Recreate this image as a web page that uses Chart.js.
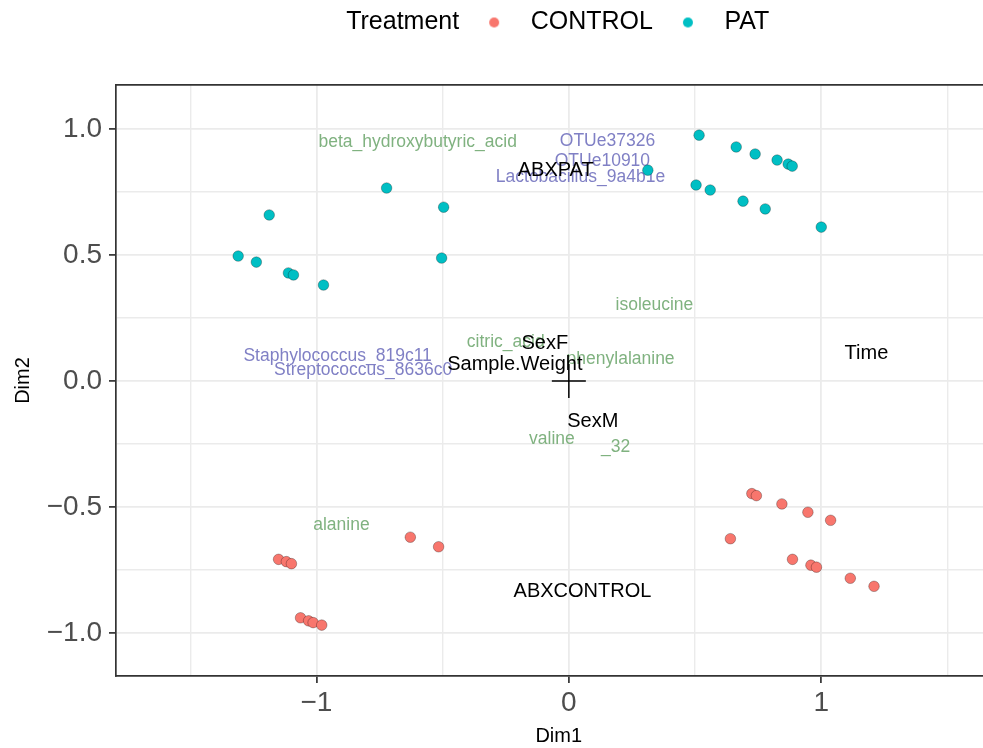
<!DOCTYPE html>
<html>
<head>
<meta charset="utf-8">
<script src="https://cdn.jsdelivr.net/npm/chart.js@4.4.1/dist/chart.umd.min.js"></script>
<style>
  html, body { margin: 0; padding: 0; background: #fff; overflow: hidden; }
  #wrap { width: 1020px; height: 748px; }
</style>
</head>
<body>
<div id="wrap"><canvas id="chart" width="1020" height="748"></canvas></div>
<script>
// groups
let groups = ["CONTROL", "PAT"];
let groupColors = ["#F8766D", "#00BFC4"];

// sample scores
let controlX = [-1.150, -1.119, -1.099, -1.063, -1.031, -1.013, -0.979, -0.628, -0.516,
                0.725, 0.743, 0.844, 0.947, 1.037, 0.640, 0.886, 0.959, 0.981, 1.115, 1.209];
let controlY = [-0.708, -0.717, -0.725, -0.940, -0.952, -0.959, -0.969, -0.620, -0.658,
                -0.447, -0.455, -0.488, -0.521, -0.553, -0.626, -0.708, -0.731, -0.739, -0.783, -0.815];
let patX = [0.516, 0.663, 0.738, 0.825, 0.869, 0.885, 0.313, 0.504, 0.560, 0.690, 0.778, 1.000,
            -0.722, -0.496, -1.187, -0.504, -1.310, -1.238, -1.111, -1.091, -0.972];
let patY = [0.976, 0.929, 0.901, 0.877, 0.861, 0.853, 0.837, 0.778, 0.758, 0.714, 0.683, 0.611,
            0.766, 0.690, 0.659, 0.488, 0.496, 0.472, 0.429, 0.421, 0.381];

// origin marker
let originX = [0];
let originY = [0];

// metabolite labels (green)
let metabNames = ["beta_hydroxybutyric_acid", "isoleucine", "citric_acid", "phenylalanine", "valine", "_32", "alanine"];
let metabX = [-0.599, 0.339, -0.250, 0.205, -0.067, 0.185, -0.901];
let metabY = [0.948, 0.302, 0.156, 0.087, -0.230, -0.261, -0.571];

// taxa labels (blue)
let taxaNames = ["OTUe37326", "OTUe10910", "Lactobacillus_9a4b1e", "Staphylococcus_819c11", "Streptococcus_8636c0"];
let taxaX = [0.153, 0.133, 0.046, -0.916, -0.815];
let taxaY = [0.952, 0.874, 0.811, 0.099, 0.044];

// covariate labels (black)
let covNames = ["ABXPAT", "SexF", "Sample.Weight", "SexM", "Time", "ABXCONTROL"];
let covX = [-0.052, -0.095, -0.214, 0.095, 1.179, 0.054];
let covY = [0.837, 0.149, 0.067, -0.161, 0.111, -0.837];

let FONT = '"Liberation Sans", Arial, Helvetica, sans-serif';

function toPoints(xs, ys){
    return xs.map(function(v, i){ return {x: v, y: ys[i]}; });
}

function dotImage(color){
    let c = document.createElement("canvas");
    c.width = 12; c.height = 12;
    let g = c.getContext("2d");
    if(color){
        g.beginPath();
        g.arc(6, 6, 5, 0, Math.PI * 2);
        g.fillStyle = color;
        g.fill();
    }
    return c;
}

function drawWords(chart, words, xs, ys, color, size){
    let ctx = chart.ctx;
    let sx = chart.scales.x, sy = chart.scales.y;
    ctx.save();
    ctx.font = size + "px " + FONT;
    ctx.fillStyle = color;
    ctx.textAlign = "center";
    ctx.textBaseline = "middle";
    for(let i = 0; i < words.length; i++){
        ctx.fillText(words[i], sx.getPixelForValue(xs[i]), sy.getPixelForValue(ys[i]));
    }
    ctx.restore();
}

let wordLayer = {
    id: "wordLayer",
    beforeDatasetsDraw(chart){
        drawWords(chart, metabNames, metabX, metabY, "#80B280", 17.5);
        drawWords(chart, taxaNames, taxaX, taxaY, "#8080C5", 17.5);
    },
    afterDatasetsDraw(chart){
        drawWords(chart, covNames, covX, covY, "#000000", 20);
    }
};

function isMultiple(v, step){
    return Math.abs(v / step - Math.round(v / step)) < 1e-6;
}
function minus(s){ return s.replace("-", "\u2212"); }

let gridColor = "#EBEBEB";
let axisDark = "#333333";

new Chart("chart", {
    type: "scatter",
    data: {
        datasets: [
            {
                label: groups[0],
                data: toPoints(controlX, controlY),
                backgroundColor: groupColors[0],
                borderColor: "rgba(0,0,0,0.35)",
                borderWidth: 0.8,
                pointRadius: 5.3
            },
            {
                label: groups[1],
                data: toPoints(patX, patY),
                backgroundColor: groupColors[1],
                borderColor: "rgba(0,0,0,0.35)",
                borderWidth: 0.8,
                pointRadius: 5.3
            },
            {
                label: "origin",
                data: toPoints(originX, originY),
                pointStyle: "cross",
                pointRadius: 17,
                borderColor: "#000000",
                borderWidth: 1.5
            }
        ]
    },
    options: {
        responsive: false,
        animation: false,
        devicePixelRatio: 1,
        layout: { padding: { top: -1, left: 0, right: 0, bottom: 0 } },
        plugins: {
            tooltip: { enabled: false },
            legend: {
                position: "top",
                fullSize: false,
                labels: {
                    usePointStyle: true,
                    pointStyleWidth: 48,
                    padding: 11,
                    color: "#000000",
                    font: { family: FONT, size: 25 },
                    generateLabels: function(){
                        return [
                            { text: "Treatment", pointStyle: dotImage(null), lineWidth: 0 },
                            { text: groups[0], pointStyle: dotImage(groupColors[0]), lineWidth: 0 },
                            { text: groups[1] + "         ", pointStyle: dotImage(groupColors[1]), lineWidth: 0 }
                        ];
                    }
                }
            }
        },
        scales: {
            x: {
                type: "linear",
                position: "bottom",
                min: -1.794,
                max: 1.714,
                afterFit: function(s){
                    s.height = 72;
                    s.paddingLeft = 0;
                    s.paddingRight = 0;
                },
                ticks: {
                    stepSize: 0.5,
                    includeBounds: false,
                    autoSkip: false,
                    maxRotation: 0,
                    padding: 3,
                    color: "#4D4D4D",
                    font: { family: FONT, size: 28 },
                    callback: function(v){ return isMultiple(v, 1) ? minus(String(Math.round(v))) : ""; }
                },
                grid: {
                    color: gridColor,
                    lineWidth: function(c){ return isMultiple(c.tick.value, 1) ? 1.8 : 1.4; },
                    tickLength: 7,
                    tickWidth: 1.7,
                    tickColor: function(c){ return isMultiple(c.tick.value, 1) ? axisDark : "rgba(0,0,0,0)"; }
                },
                border: { color: axisDark, width: 1.7 },
                title: {
                    display: true,
                    text: "Dim1",
                    color: "#000000",
                    font: { family: FONT, size: 20 },
                    padding: { top: 0, bottom: 0 }
                }
            },
            x2: {
                type: "linear",
                position: "top",
                display: true,
                afterFit: function(s){ s.height = 40; },
                ticks: { display: false },
                grid: { display: false, drawTicks: false },
                border: { display: true, color: axisDark, width: 1.7 }
            },
            y: {
                type: "linear",
                position: "left",
                min: -1.171,
                max: 1.175,
                afterFit: function(s){ s.width = 116; },
                ticks: {
                    stepSize: 0.25,
                    includeBounds: false,
                    autoSkip: false,
                    padding: 7,
                    color: "#4D4D4D",
                    font: { family: FONT, size: 28 },
                    callback: function(v){ return isMultiple(v, 0.5) ? minus(v.toFixed(1)) : ""; }
                },
                grid: {
                    color: gridColor,
                    lineWidth: function(c){ return isMultiple(c.tick.value, 0.5) ? 1.8 : 1.4; },
                    tickLength: 7,
                    tickWidth: 1.7,
                    tickColor: function(c){ return isMultiple(c.tick.value, 0.5) ? axisDark : "rgba(0,0,0,0)"; }
                },
                border: { color: axisDark, width: 1.7 },
                title: {
                    display: true,
                    text: "Dim2",
                    color: "#000000",
                    font: { family: FONT, size: 20 },
                    padding: { top: 11, bottom: 0 }
                }
            }
        }
    },
    plugins: [wordLayer]
});
</script>
</body>
</html>
